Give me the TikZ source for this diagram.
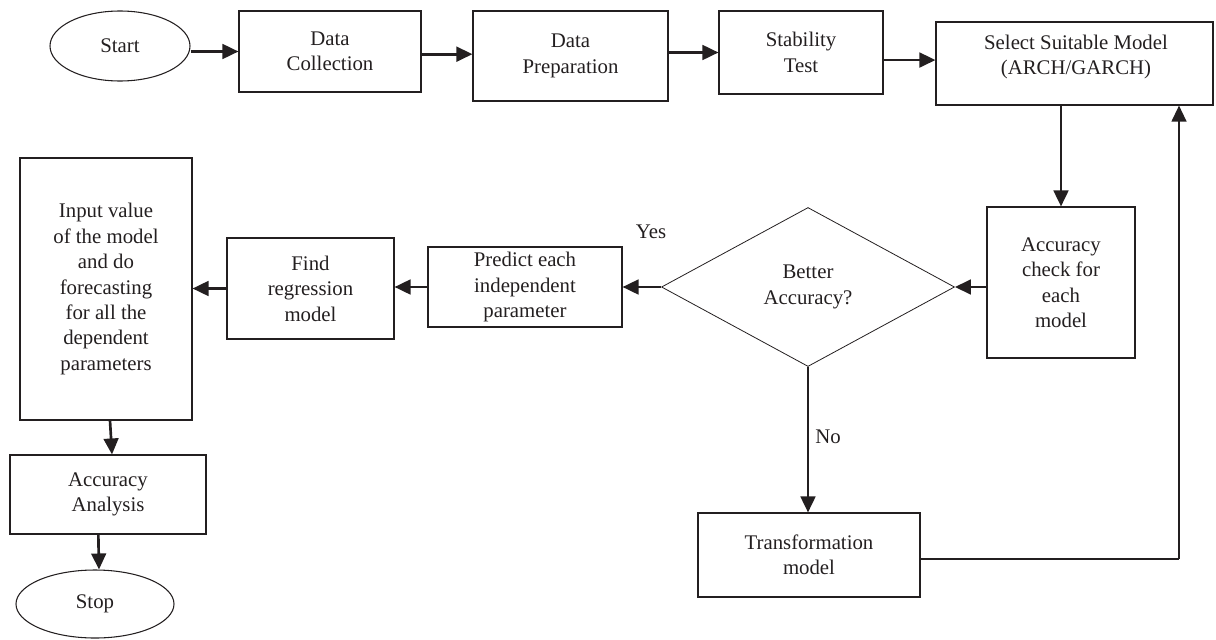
\documentclass[tikz,border=0pt]{standalone}
\usepackage{fontspec}
\setmainfont{Liberation Serif}
\usetikzlibrary{arrows.meta,shapes.geometric,calc}
\definecolor{ink}{HTML}{231F20}
\begin{document}
\begin{tikzpicture}[x=0.75pt,y=-0.75pt,
  every node/.style={text=ink, font=\fontsize{15.6}{19.1}\selectfont},
  bx/.style 2 args={draw=ink, line width=0.8pt, rectangle, align=center, inner sep=0pt,
     minimum width=#1*0.75pt, minimum height=#2*0.75pt},
  ell/.style 2 args={draw=ink, line width=0.8pt, ellipse, inner sep=0pt,
     minimum width=#1*0.75pt, minimum height=#2*0.75pt},
  arr/.style={draw=ink, line width=2pt, -{Triangle[length=12pt,width=11pt]}},
  lbl/.style={inner sep=0pt}]
\useasboundingbox (0,0) rectangle (1216,639);
% top row
\node[ell={140}{70}] (start) at (120,46) {Start};
\node[bx={182}{81}] (dc) at (330,51.5) {Data\\Collection};
\node[bx={195}{90}] (dp) at (570.5,56) {Data\\Preparation};
\node[bx={164}{83}] (st) at (801,52.5) {Stability\\Test};
\node[bx={277}{83}] (sel) at (1074.5,63.5) {};
\node[lbl, align=center] (seltext) at (1076,57) {Select Suitable Model\\(ARCH/GARCH)};
% middle row
\node[bx={148}{151}] (ac) at (1061,282.5) {Accuracy\\check for\\each\\model};
\node[draw=ink, line width=0.6pt, diamond, aspect=1.84, inner sep=0pt, align=center,
      minimum width=293*0.75pt, minimum height=159*0.75pt] (dia) at (808,287) {Better\\Accuracy?};
\node[bx={194}{80}] (pred) at (525,287) {Predict each\\independent\\parameter};
\node[bx={167}{101}] (find) at (310.5,288.5) {Find\\regression\\model};
\node[bx={172}{262}] (inp) at (106,289) {Input value\\of the model\\and do\\forecasting\\for all the\\dependent\\parameters};
\node[bx={196}{79}] (aa) at (108,494.5) {Accuracy\\Analysis};
\node[ell={158}{68}] (stop) at (95,604) {Stop};
\node[bx={222}{84}] (trans) at (809,555) {Transformation\\model};
% labels
\node[lbl] (yes) at (651,232) {Yes};
\node[lbl, anchor=west] (no) at (815,437) {No};
% connectors
\draw[arr] (start.east |- dc.west) -- (dc.west);
\draw[arr] ([yshift=-2pt]dc.east) -- ([yshift=-2pt]dc.east -| dp.west);
\draw[arr] (dp.east |- st.west) -- (st.west);
\draw[arr] ([yshift=2.6pt]st.east |- sel.west) -- ([yshift=2.6pt]sel.west);
\draw[arr] (sel.south -| ac.north) -- (ac.north);
\draw[arr] (ac.west |- dia.east) -- (dia.east);
\draw[arr] (dia.west) -- (pred.east);
\draw[arr] (pred.west) -- (pred.west -| find.east);
\draw[arr] (find.west) -- (find.west -| inp.east);
\draw[arr] ([xshift=3pt]inp.south) -- ([xshift=3pt]aa.north);
\draw[arr] ([xshift=2.5pt]stop.north |- aa.south) -- ([xshift=3pt]stop.north);
\draw[arr] (dia.south) -- (dia.south |- trans.north);
\coordinate (corner) at (1179,559);
\draw[draw=ink, line width=0.8pt] (trans.east |- corner) -- (corner);
\draw[draw=ink, line width=1.6pt, -{Triangle[length=12pt,width=11pt]}] (corner) -- (corner |- sel.south);
\end{tikzpicture}
\end{document}
